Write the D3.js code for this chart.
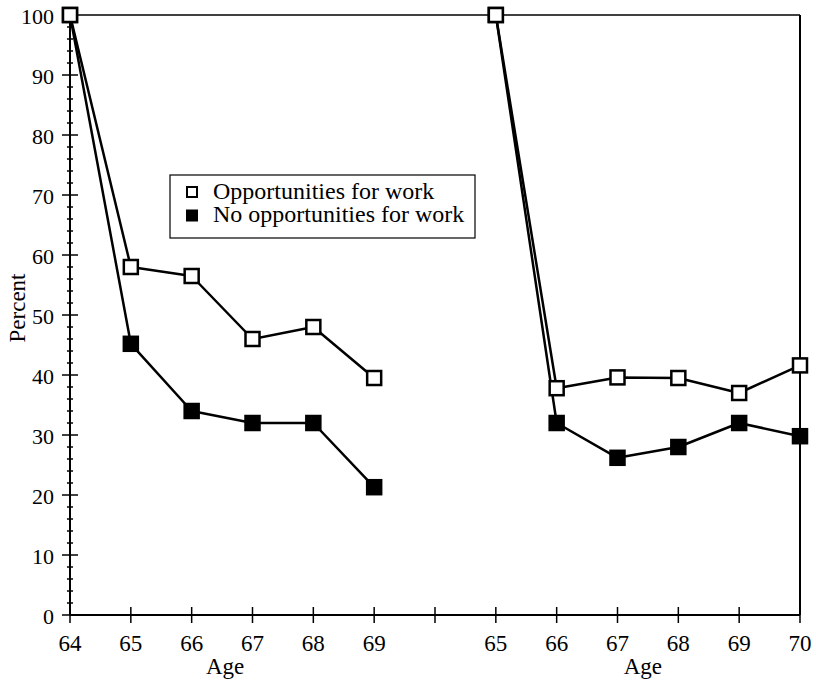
<!DOCTYPE html>
<html>
<head>
<meta charset="utf-8">
<script src="https://cdn.jsdelivr.net/npm/d3@7"></script>
<style>
  html, body { margin: 0; padding: 0; background: #fff; }
  svg { display: block; }
</style>
</head>
<body>
<svg id="chart" width="816" height="680" font-family="'Liberation Serif', 'Times New Roman', Times, serif"></svg>
<script>
// ---- Data ----
const slots = ["L64","L65","L66","L67","L68","L69","gap","R65","R66","R67","R68","R69","R70"];
const tickLabels = ["64","65","66","67","68","69","","65","66","67","68","69","70"];
const leftAges = ["L64","L65","L66","L67","L68","L69"];
const rightAges = ["R65","R66","R67","R68","R69","R70"];
const leftOpportunities = [100, 58, 56.5, 46, 48, 39.5];
const leftNoOpportunities = [100, 45.2, 34, 32, 32, 21.3];
const rightOpportunities = [100, 37.8, 39.6, 39.5, 37, 41.6];
const rightNoOpportunities = [100, 32, 26.2, 28, 32, 29.8];
const yTicks = [0,10,20,30,40,50,60,70,80,90,100];
const legendLabels = ["Opportunities for work", "No opportunities for work"];

// ---- Layout ----
const svg = d3.select("#chart");
const x = d3.scalePoint().domain(slots).range([70, 800]);
const y = d3.scaleLinear().domain([0, 100]).range([615, 15]);

// Frame: top and right lines
svg.append("line").attr("x1", 70).attr("x2", 800).attr("y1", y(100)).attr("y2", y(100))
  .attr("stroke", "#000").attr("stroke-width", 1.5);
svg.append("line").attr("x1", 800).attr("x2", 800).attr("y1", y(100)).attr("y2", y(0))
  .attr("stroke", "#000").attr("stroke-width", 2);

// Y axis
const yAxisG = svg.append("g");
yAxisG.append("line").attr("x1", 70).attr("x2", 70).attr("y1", y(0)).attr("y2", y(100))
  .attr("stroke", "#000").attr("stroke-width", 2);
const minor = d3.range(0, 101, 2).filter(v => v % 10 !== 0);
yAxisG.selectAll(".minor").data(minor).join("line")
  .attr("x1", 67).attr("x2", 73).attr("y1", d => y(d)).attr("y2", d => y(d))
  .attr("stroke", "#000").attr("stroke-width", 1.5);
yAxisG.selectAll(".major").data(yTicks).join("line")
  .attr("x1", 62).attr("x2", 78).attr("y1", d => y(d)).attr("y2", d => y(d))
  .attr("stroke", "#000").attr("stroke-width", 1.5);
yAxisG.selectAll(".ylab").data(yTicks).join("text")
  .attr("x", 54).attr("y", d => y(d) + 1.5).attr("dy", "0.35em")
  .attr("text-anchor", "end").attr("font-size", 22).text(d => d);

// X axis
const xAxisG = svg.append("g");
xAxisG.append("line").attr("x1", 70).attr("x2", 800).attr("y1", y(0)).attr("y2", y(0))
  .attr("stroke", "#000").attr("stroke-width", 2);
xAxisG.selectAll(".xt").data(slots).join("line")
  .attr("x1", d => x(d)).attr("x2", d => x(d)).attr("y1", y(0) - 8).attr("y2", y(0) + 8)
  .attr("stroke", "#000").attr("stroke-width", 1.5);
xAxisG.selectAll(".xlab").data(slots).join("text")
  .attr("x", d => x(d)).attr("y", 651)
  .attr("text-anchor", "middle").attr("font-size", 23)
  .text((d, i) => tickLabels[i]);

// Axis titles
svg.append("text").attr("x", (x("L66") + x("L67")) / 2 + 3).attr("y", 674)
  .attr("text-anchor", "middle").attr("font-size", 23).text("Age");
svg.append("text").attr("x", (x("R67") + x("R68")) / 2 - 5).attr("y", 674)
  .attr("text-anchor", "middle").attr("font-size", 23).text("Age");
svg.append("text").attr("transform", `translate(25,308) rotate(-90)`)
  .attr("text-anchor", "middle").attr("font-size", 23).text("Percent");

// Series
const line = d3.line().x(d => x(d[0])).y(d => y(d[1]));
const series = [
  { ages: leftAges, vals: leftNoOpportunities, filled: true },
  { ages: rightAges, vals: rightNoOpportunities, filled: true },
  { ages: leftAges, vals: leftOpportunities, filled: false },
  { ages: rightAges, vals: rightOpportunities, filled: false }
];
series.forEach(s => {
  const pts = s.ages.map((a, i) => [a, s.vals[i]]);
  svg.append("path").datum(pts).attr("d", line)
    .attr("fill", "none").attr("stroke", "#000").attr("stroke-width", 2.5)
    .attr("stroke-linejoin", "round");
});
const size = 14;
series.forEach(s => {
  const pts = s.ages.map((a, i) => [a, s.vals[i]]);
  svg.append("g").selectAll("rect").data(pts).join("rect")
    .attr("x", d => x(d[0]) - size / 2).attr("y", d => y(d[1]) - size / 2)
    .attr("width", size).attr("height", size)
    .attr("fill", s.filled ? "#000" : "#fff")
    .attr("stroke", "#000").attr("stroke-width", 2.5);
});

// Legend
const lg = svg.append("g");
lg.append("rect").attr("x", 170).attr("y", 175).attr("width", 305).attr("height", 63)
  .attr("fill", "#fff").attr("stroke", "#000").attr("stroke-width", 1.2);
legendLabels.forEach((lab, i) => {
  const cy = 192 + i * 23.5;
  lg.append("rect").attr("x", 187).attr("y", cy - 5).attr("width", 10).attr("height", 10)
    .attr("fill", i === 0 ? "#fff" : "#000").attr("stroke", "#000").attr("stroke-width", 2);
});
const lt = lg.append("text").attr("font-size", 24);
lt.selectAll("tspan").data(legendLabels).join("tspan")
  .attr("x", 213).attr("y", (d, i) => 198.5 + i * 23.5)
  .text(d => d);
</script>
</body>
</html>
